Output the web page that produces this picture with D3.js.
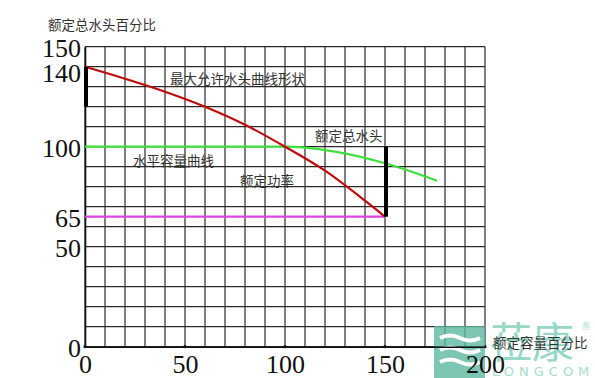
<!DOCTYPE html>
<html><head><meta charset="utf-8">
<script src="https://cdn.jsdelivr.net/npm/d3@7/dist/d3.min.js"></script>
<style>body{margin:0;background:#fff}svg{display:block}</style>
</head><body><svg id="c" width="595" height="378"></svg>
<script>
// data
const xTicks = [0, 50, 100, 150, 200];
const yTicks = [0, 50, 65, 100, 140, 150];
const maxHeadX = [0, 20, 40, 60, 80, 100, 120, 140, 150];
const maxHeadY = [140, 134, 127.5, 120, 111, 100, 88, 73, 65];
const capX = [0, 100, 110, 125, 150, 176];
const capY = [100, 100, 99.5, 97.5, 91.7, 83];
const powerX = [0, 150];
const powerY = [65, 65];
const barsX = [0, 150];
const barsLo = [120, 65];
const barsHi = [140, 100];
const labels = ["最大允许水头曲线形状", "水平容量曲线", "额定功率", "额定总水头"];
const yTitle = "额定总水头百分比";
const xTitle = "额定容量百分比";

const svg = d3.select("#c");
const x = d3.scaleLinear().domain([0, 200]).range([85, 485]);
const y = d3.scaleLinear().domain([0, 150]).range([346.7, 46.7]);

// grid
const gx = d3.range(0, 201, 10), gy = d3.range(0, 151, 10);
svg.append("g").selectAll("line").data(gx).join("line")
  .attr("x1", d => x(d)).attr("x2", d => x(d)).attr("y1", y(0)).attr("y2", y(150))
  .attr("stroke", "#2a2a2a").attr("stroke-width", 1.2);
svg.append("g").selectAll("line").data(gy).join("line")
  .attr("y1", d => y(d)).attr("y2", d => y(d)).attr("x1", x(0)).attr("x2", x(200))
  .attr("stroke", "#2a2a2a").attr("stroke-width", 1.2);

// axes
const ax = svg.append("g").attr("transform", `translate(0,${y(0)})`)
  .call(d3.axisBottom(x).tickValues(xTicks).tickSize(0).tickPadding(8));
ax.select(".domain").attr("stroke", "#111").attr("stroke-width", 1.6);
ax.selectAll("text").attr("font-family", "Liberation Serif").attr("font-size", 26).attr("fill", "#111");
const ay = svg.append("g").attr("transform", `translate(${x(0)},0)`)
  .call(d3.axisLeft(y).tickValues(yTicks).tickSize(0).tickPadding(4));
ay.select(".domain").attr("stroke", "#111").attr("stroke-width", 1.6);
ay.selectAll("text").attr("font-family", "Liberation Serif").attr("font-size", 26).attr("fill", "#111")
  .attr("dy", d => d === 140 ? "0.55em" : "0.36em");
svg.append("g").selectAll("circle").data(xTicks).join("circle")
  .attr("cx", d => x(d)).attr("cy", y(0)).attr("r", 1.6).attr("fill", "#111");

// lines
const line = d3.line().x(d => x(d[0])).y(d => y(d[1]));
svg.append("path").datum(powerX.map((v, i) => [v, powerY[i]]))
  .attr("d", line).attr("fill", "none").attr("stroke", "#dd44dd").attr("stroke-width", 2.2);
svg.append("path").datum(capX.map((v, i) => [v, capY[i]]))
  .attr("d", line.curve(d3.curveMonotoneX)).attr("fill", "none").attr("stroke", "#3ee03e").attr("stroke-width", 2.2);
svg.append("path").datum(maxHeadX.map((v, i) => [v, maxHeadY[i]]))
  .attr("d", line.curve(d3.curveMonotoneX)).attr("fill", "none").attr("stroke", "#c00a0a").attr("stroke-width", 2.2);
svg.append("g").selectAll("line").data(barsX).join("line")
  .attr("x1", d => x(d)+1).attr("x2", d => x(d)+1)
  .attr("y1", (d, i) => y(barsLo[i])).attr("y2", (d, i) => y(barsHi[i]))
  .attr("stroke", "#000").attr("stroke-width", 4);

// labels
const lp = [[170, 79], [133, 161], [240, 181], [315, 136]];
svg.append("g").selectAll("text").data(labels).join("text")
  .attr("x", (d, i) => lp[i][0]).attr("y", (d, i) => lp[i][1]).attr("dy", "0.36em")
  .attr("font-family", "Noto Sans CJK SC").attr("font-size", 13.5).attr("fill", "#333").text(d => d);
svg.append("text").attr("x", 48).attr("y", 25).attr("dy", "0.36em")
  .attr("font-family", "Noto Sans CJK SC").attr("font-size", 13.5).attr("fill", "#333").text(yTitle);

// watermark
const wm = svg.append("g");
wm.append("rect").attr("x", 434).attr("y", 326).attr("width", 51).attr("height", 52)
  .attr("fill", "#5cb8a0").attr("opacity", 0.8);
[338, 350, 362].forEach(yy => {
  wm.append("path").attr("d", `M440,${yy} q10,-5 20,0 t20,0`).attr("fill", "none")
    .attr("stroke", "#fff").attr("stroke-width", 4);
});
wm.append("text").attr("x", 490).attr("y", 358).attr("font-family", "Noto Sans CJK SC")
  .attr("font-size", 42).attr("fill", "#6cc8b0").attr("opacity", 0.7).text("莅康");
wm.append("text").attr("x", 492).attr("y", 376).attr("font-family", "DejaVu Sans")
  .attr("font-size", 13).attr("letter-spacing", 5).attr("fill", "#8fd5c2").attr("opacity", 0.8).text("LONGCOM");
wm.append("text").attr("x", 581).attr("y", 330).attr("font-family", "DejaVu Sans")
  .attr("font-size", 10).attr("fill", "#aadbd0").text("®");

svg.append("text").attr("x", 493).attr("y", 343).attr("dy", "0.36em")
  .attr("font-family", "Noto Sans CJK SC").attr("font-size", 13.5).attr("fill", "#333").text(xTitle);
ax.raise();
</script></body></html>
